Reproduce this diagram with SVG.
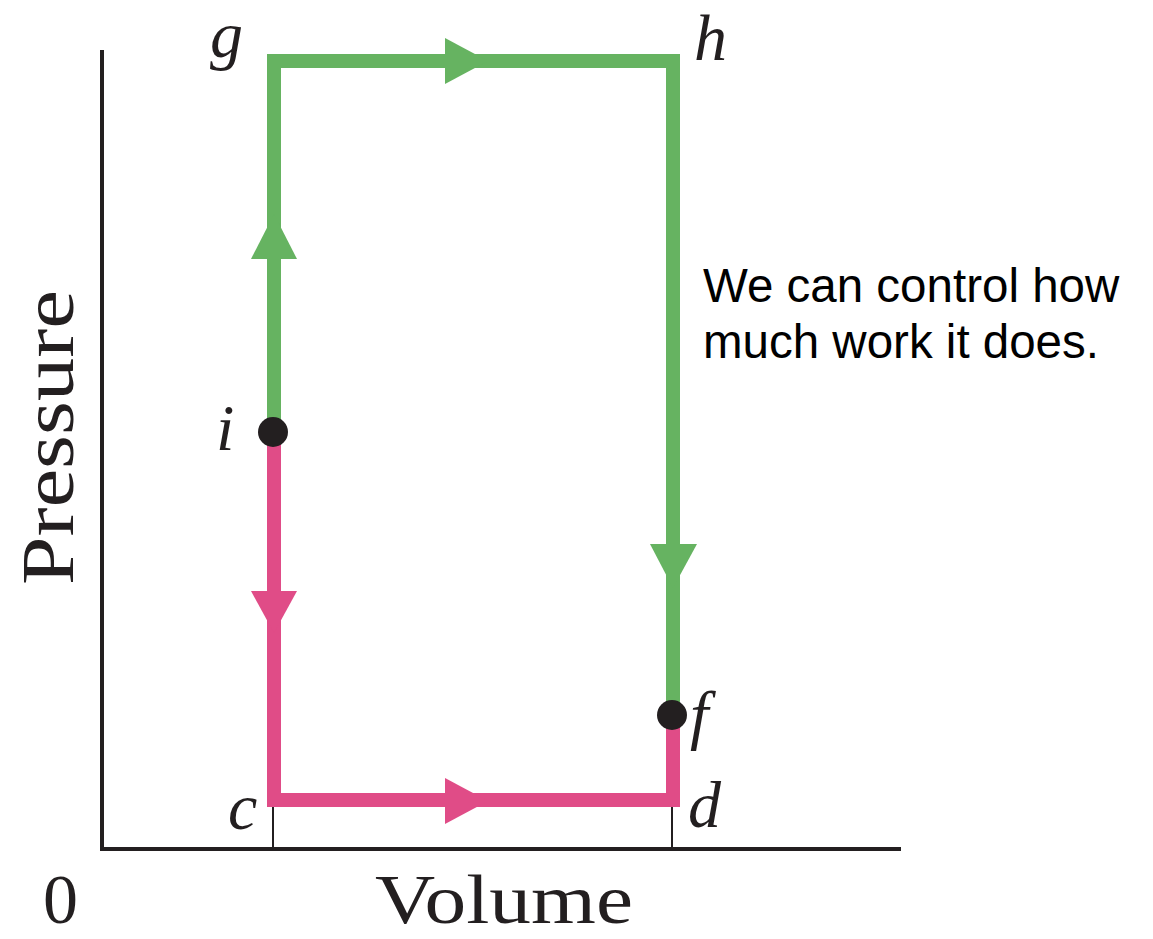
<svg xmlns="http://www.w3.org/2000/svg" width="1153" height="939" viewBox="0 0 1153 939">
<style>
.lbl{font-family:"Liberation Serif","Times New Roman",serif;font-style:italic;font-size:66px;fill:#231f20}
.ax{font-family:"Liberation Serif","Times New Roman",serif;font-size:74px;fill:#231f20}
.ax2{font-family:"Liberation Serif","Times New Roman",serif;font-size:70px;fill:#231f20}
.note{font-family:"Liberation Sans",Arial,sans-serif;font-size:47.5px;fill:#000}
.g{fill:none;stroke:#66b361;stroke-width:14;stroke-linejoin:miter}
.p{fill:none;stroke:#e04c87;stroke-width:14;stroke-linejoin:miter}
.gh{fill:#66b361}
.ph{fill:#e04c87}
.axis{stroke:#231f20;stroke-width:4;fill:none}
.tick{stroke:#231f20;stroke-width:2}
.dot{fill:#231f20}
</style>
<rect width="1153" height="939" fill="#fff"/>
<g id="axes">
<line class="axis" x1="102" y1="50" x2="102" y2="851"/>
<line class="axis" x1="100" y1="849" x2="901" y2="849"/>
<line class="tick" x1="273" y1="806" x2="273" y2="849"/>
<line class="tick" x1="672" y1="806" x2="672" y2="849"/>
<text class="ax2" x="43" y="923">0</text>
<text class="ax2" x="375" y="923" textLength="258" lengthAdjust="spacingAndGlyphs">Volume</text>
<text class="ax" transform="translate(73,585) rotate(-90)" textLength="295" lengthAdjust="spacingAndGlyphs">Pressure</text>
</g>
<g id="connectors">
<path class="g" d="M274,432 V61 H673 V715"/>
<path class="p" d="M274,432 V800 H673 V715"/>
<polygon class="gh" points="445,38 488,61 445,84"/>
<polygon class="gh" points="274,214 297,259 251,259"/>
<polygon class="gh" points="650,544 697,544 673,588"/>
<polygon class="ph" points="251,591 297,591 274,633"/>
<polygon class="ph" points="445,778 488,801 445,824"/>
</g>
<g id="node-g"><text class="lbl" x="210" y="57">g</text></g>
<g id="node-h"><text class="lbl" x="694" y="60">h</text></g>
<g id="node-i"><circle class="dot" cx="273" cy="432" r="15"/><text class="lbl" x="216" y="450">i</text></g>
<g id="node-f"><circle class="dot" cx="672" cy="715" r="15"/><text class="lbl" x="690" y="737">f</text></g>
<g id="node-c"><text class="lbl" x="228" y="829">c</text></g>
<g id="node-d"><text class="lbl" x="688" y="827">d</text></g>
<g id="note">
<text class="note" x="703" y="302">We can control how</text>
<text class="note" x="703" y="358">much work it does.</text>
</g>
</svg>
